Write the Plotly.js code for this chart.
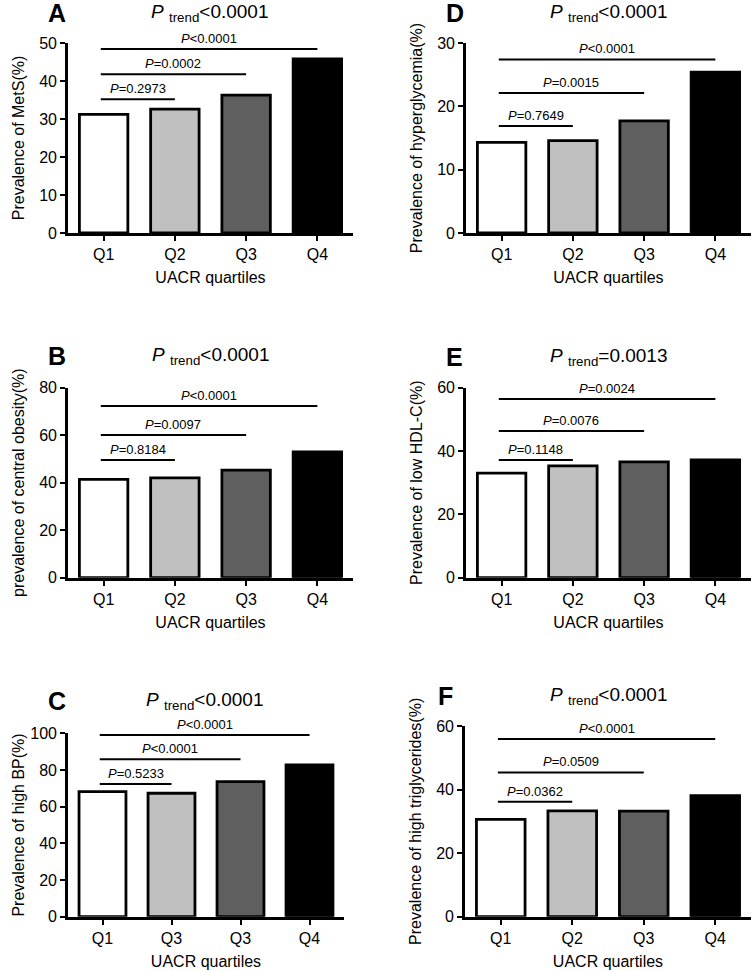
<!DOCTYPE html>
<html>
<head>
<meta charset="utf-8">
<script src="https://cdn.plot.ly/plotly-3.0.1.min.js"></script>
<style>html,body{margin:0;padding:0;background:#fff;}#chart{width:756px;height:970px;}</style>
</head>
<body>
<div id="chart"></div>
<script>
// ---------- data ----------
const quartileLabels = ['Q1', 'Q2', 'Q3', 'Q4'];
const quartileLabelsC = ['Q1', 'Q3', 'Q3', 'Q4']; // as printed in panel C
const barColors = ['#ffffff', '#c0c0c0', '#5f5f5f', '#000000'];

const metsValues = [31.2, 32.6, 36.3, 45.8];
const hyperglycemiaValues = [14.3, 14.6, 17.7, 25.4];
const obesityValues = [41.4, 42.0, 45.3, 53.0];
const hdlValues = [33.0, 35.3, 36.6, 37.2];
const bpValues = [68.2, 67.3, 73.6, 82.8];
const tgValues = [30.6, 33.3, 33.2, 38.1];

const metsP = ['=0.2973', '=0.0002', '<0.0001'];
const hyperglycemiaP = ['=0.7649', '=0.0015', '<0.0001'];
const obesityP = ['=0.8184', '=0.0097', '<0.0001'];
const hdlP = ['=0.1148', '=0.0076', '=0.0024'];
const bpP = ['=0.5233', '<0.0001', '<0.0001'];
const tgP = ['=0.0362', '=0.0509', '<0.0001'];

const metsBracketY = [35.2, 41.8, 48.4];
const hyperglycemiaBracketY = [16.9, 22.1, 27.4];
const obesityBracketY = [49.6, 60.1, 72.3];
const hdlBracketY = [37.2, 46.3, 56.4];
const bpBracketY = [72.4, 85.9, 99.1];
const tgBracketY = [36.2, 45.4, 55.9];

const bracketStart = -0.04;
const bracketEnds = [1, 2, 3];

const trendP = ['<0.0001', '<0.0001', '<0.0001', '=0.0013', '<0.0001', '<0.0001'];
const panelLetters = ['A', 'D', 'B', 'E', 'C', 'F'];
const yTitles = ['Prevalence of MetS(%)', 'Prevalence of hyperglycemia(%)',
  'prevalence of central obesity(%)', 'Prevalence of low HDL-C(%)',
  'Prevalence of high BP(%)', 'Prevalence of high triglycerides(%)'];
const yMax = [50, 30, 80, 60, 100, 60];
const yStep = [10, 10, 20, 20, 20, 20];
const xTitle = 'UACR quartiles';

// ---------- layout geometry (pixels) ----------
const W = 756, H = 970;
const FONT = 'Liberation Sans, Arial, Helvetica, sans-serif';
const geom = [
  {x0: 68, x1: 353, y0: 43, y1: 233, tx: 210, ty: 13, lx: 57, ly: 13},
  {x0: 466, x1: 751, y0: 43, y1: 233, tx: 609, ty: 13, lx: 455, ly: 13},
  {x0: 68, x1: 353, y0: 387.7, y1: 577.7, tx: 211, ty: 356, lx: 57, ly: 356},
  {x0: 466, x1: 751, y0: 387.7, y1: 577.7, tx: 609, ty: 357, lx: 454, ly: 357},
  {x0: 68, x1: 344, y0: 733.3, y1: 916.7, tx: 205, ty: 701, lx: 57, ly: 701},
  {x0: 465, x1: 751, y0: 726, y1: 916.7, tx: 609, ty: 696, lx: 445, ly: 696}
];

const panelValues = [metsValues, hyperglycemiaValues, obesityValues, hdlValues, bpValues, tgValues];
const panelP = [metsP, hyperglycemiaP, obesityP, hdlP, bpP, tgP];
const panelBracketY = [metsBracketY, hyperglycemiaBracketY, obesityBracketY, hdlBracketY, bpBracketY, tgBracketY];
const panelTicks = [quartileLabels, quartileLabels, quartileLabels, quartileLabels, quartileLabelsC, quartileLabels];

const traces = [];
const shapes = [];
const annotations = [];
const layout = {
  width: W, height: H,
  margin: {l: 0, r: 0, t: 0, b: 0},
  paper_bgcolor: '#ffffff', plot_bgcolor: 'rgba(0,0,0,0)',
  showlegend: false,
  font: {family: FONT, color: '#000', size: 16}
};

for (let i = 0; i < 6; i++) {
  const g = geom[i];
  const n = i === 0 ? '' : String(i + 1);
  const xa = 'x' + n, ya = 'y' + n;
  traces.push({
    type: 'bar', x: [0, 1, 2, 3], y: panelValues[i],
    xaxis: xa, yaxis: ya, width: 0.68,
    marker: {color: barColors, line: {color: '#000', width: 2.8}},
    hoverinfo: 'y'
  });
  const ticks = [];
  for (let v = 0; v <= yMax[i]; v += yStep[i]) ticks.push(v);
  layout['xaxis' + n] = {
    domain: [g.x0 / W, g.x1 / W], anchor: ya,
    range: [-0.5, 3.5], tickvals: [0, 1, 2, 3], ticktext: panelTicks[i],
    ticks: 'outside', ticklen: 5, tickwidth: 2, tickcolor: '#000',
    showline: true, linewidth: 2.8, linecolor: '#000',
    showgrid: false, zeroline: false, fixedrange: true,
    tickfont: {size: 16, family: FONT, color: '#000'},
    title: {text: xTitle, font: {size: 16, family: FONT, color: '#000'}, standoff: 10}
  };
  layout['yaxis' + n] = {
    domain: [1 - g.y1 / H, 1 - g.y0 / H], anchor: xa,
    range: [0, yMax[i]], tickvals: ticks,
    ticks: 'outside', ticklen: 5, tickwidth: 2, tickcolor: '#000',
    showline: true, linewidth: 2.8, linecolor: '#000',
    showgrid: false, zeroline: false, fixedrange: true,
    tickfont: {size: 16, family: FONT, color: '#000'},
    title: {text: yTitles[i], font: {size: 16, family: FONT, color: '#000'}}
  };
  // brackets with P labels
  for (let k = 0; k < 3; k++) {
    const yb = panelBracketY[i][k];
    const xe = bracketEnds[k];
    shapes.push({type: 'line', xref: xa, yref: ya, x0: bracketStart, x1: xe, y0: yb, y1: yb,
      line: {color: '#000', width: 2}});
    annotations.push({xref: xa, yref: ya, x: (bracketStart + xe) / 2, y: yb,
      text: '<i>P</i>' + panelP[i][k].replace('<', '&lt;'),
      showarrow: false, yanchor: 'bottom', xanchor: 'center', yshift: 1,
      font: {size: 13, family: FONT, color: '#000'}});
  }
  // title
  annotations.push({xref: 'paper', yref: 'paper', x: g.tx / W, y: 1 - g.ty / H,
    xanchor: 'center', yanchor: 'middle', showarrow: false,
    text: '<i>P</i> <sub>trend</sub>' + trendP[i].replace('<', '&lt;'),
    font: {size: 19, family: FONT, color: '#000'}});
  // panel letter
  annotations.push({xref: 'paper', yref: 'paper', x: g.lx / W, y: 1 - g.ly / H,
    xanchor: 'center', yanchor: 'middle', showarrow: false,
    text: '<b>' + panelLetters[i] + '</b>',
    font: {size: 25, family: FONT, color: '#000'}});
}
layout.shapes = shapes;
layout.annotations = annotations;

Plotly.newPlot('chart', traces, layout, {displayModeBar: false, staticPlot: true});
</script>
</body>
</html>
